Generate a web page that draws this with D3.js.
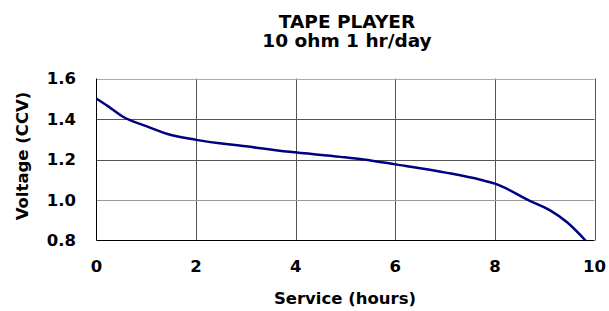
<!DOCTYPE html>
<html><head><meta charset="utf-8">
<script src="https://cdn.jsdelivr.net/npm/d3@7"></script>
<style>body{margin:0;background:#fff}svg text{font-family:"DejaVu Sans",sans-serif;font-weight:bold;fill:#000}</style>
</head><body><svg id="c" width="609" height="311"></svg>
<script>
const hours   = [0, 0.25, 0.54, 1.0, 1.41, 2.0, 3.0, 3.88, 4.9, 5.36, 6.0, 7.04, 7.71, 8.0, 8.71, 9.1, 9.45, 9.82];
const voltage = [1.50, 1.46, 1.41, 1.365, 1.327, 1.297, 1.265, 1.238, 1.213, 1.200, 1.176, 1.134, 1.100, 1.081, 0.995, 0.95, 0.89, 0.80];
const xTicks = [0, 2, 4, 6, 8, 10];
const yTicks = [0.8, 1.0, 1.2, 1.4, 1.6];
const titleLines = ["TAPE PLAYER", "10 ohm 1 hr/day"];

const svg = d3.select("#c");
const m = {l: 96.5, r: 594.5, t: 78.5, b: 240.5};
const x = d3.scaleLinear().domain([0, 10]).range([m.l, m.r]);
const y = d3.scaleLinear().domain([0.8, 1.6]).range([m.b, m.t]);

// grid
svg.append("g").selectAll("line").data(xTicks.slice(1)).join("line")
  .attr("x1", d => Math.round(x(d)) + 0.5).attr("x2", d => Math.round(x(d)) + 0.5)
  .attr("y1", m.t).attr("y2", m.b).attr("stroke", "#555").attr("stroke-width", 1);
svg.append("g").selectAll("line").data(yTicks.slice(1)).join("line")
  .attr("x1", m.l).attr("x2", m.r)
  .attr("y1", d => Math.round(y(d)) + 0.5).attr("y2", d => Math.round(y(d)) + 0.5)
  .attr("stroke", d => d === 1.6 ? "#aaa" : (d === 1.0 ? "#999" : "#555")).attr("stroke-width", 1);

// axes lines
svg.append("line").attr("x1", m.l).attr("x2", m.l).attr("y1", m.t).attr("y2", m.b).attr("stroke", "#000");
svg.append("line").attr("x1", m.l).attr("x2", m.r).attr("y1", m.b).attr("stroke", "#000").attr("y2", m.b);

// tick labels
svg.append("g").selectAll("text").data(yTicks).join("text")
  .attr("x", 76).attr("y", d => y(d)).attr("dy", "0.36em").attr("text-anchor", "end")
  .attr("font-size", 16.5).text(d => d.toFixed(1));
svg.append("g").selectAll("text").data(xTicks).join("text")
  .attr("x", d => x(d)).attr("y", 272).attr("text-anchor", "middle")
  .attr("font-size", 16.5).text(d => d);

// line
const line = d3.line().x(d => x(d[0])).y(d => y(d[1])).curve(d3.curveMonotoneX);
svg.append("path").datum(hours.map((h, i) => [h, voltage[i]]))
  .attr("d", line).attr("fill", "none").attr("stroke", "#000080").attr("stroke-width", 2.5);

// titles
svg.append("g").selectAll("text").data(titleLines).join("text")
  .attr("x", 347).attr("y", (d, i) => 28 + i * 19).attr("text-anchor", "middle")
  .attr("font-size", 18.5).text(d => d);
svg.append("text").attr("x", 345).attr("y", 304).attr("text-anchor", "middle")
  .attr("font-size", 16.5).text("Service (hours)");
svg.append("text").attr("transform", "translate(28,156) rotate(-90)").attr("text-anchor", "middle")
  .attr("font-size", 16.5).text("Voltage (CCV)");
</script></body></html>
